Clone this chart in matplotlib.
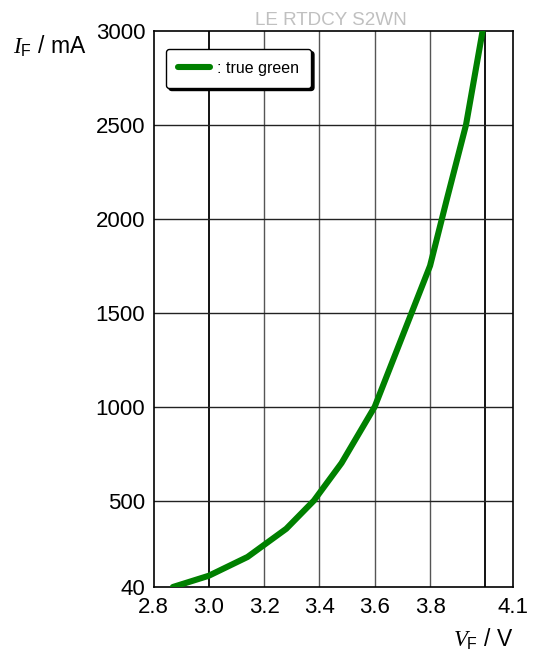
import matplotlib
matplotlib.use("Agg")
import matplotlib.pyplot as plt

plt.rcParams['font.family'] = ['Liberation Sans', 'DejaVu Sans']
plt.rcParams['mathtext.fontset'] = 'custom'
plt.rcParams['mathtext.it'] = 'Liberation Serif:italic'
plt.rcParams['mathtext.rm'] = 'Liberation Sans'

# Forward voltage (V) vs forward current (mA)
voltage = [2.87, 3.00, 3.14, 3.28, 3.38, 3.48, 3.60, 3.80, 3.86, 3.93, 3.99]
current = [40, 100, 200, 350, 500, 700, 1000, 1750, 2100, 2500, 3000]

x_ticks = [2.8, 3.0, 3.2, 3.4, 3.6, 3.8, 4.1]
x_tick_labels = ["2.8", "3.0", "3.2", "3.4", "3.6", "3.8", "4.1"]
x_grid = [3.0, 3.2, 3.4, 3.6, 3.8, 4.0]
x_major_grid = [3.0, 4.0]
y_ticks = [40, 500, 1000, 1500, 2000, 2500, 3000]
y_grid = [500, 1000, 1500, 2000, 2500]

series_label = ": true green"
title = "LE RTDCY S2WN"

fig = plt.figure(figsize=(5.39, 6.55), dpi=100)
ax = fig.add_axes([0.2848, 0.1038, 0.9518 - 0.2848, 0.9527 - 0.1038])
ax.set_xlim(2.8, 4.1)
ax.set_ylim(40, 3000)

for xv in x_grid:
    if xv in x_major_grid:
        ax.axvline(xv, color='black', lw=1.3, zorder=1)
    else:
        ax.axvline(xv, color='#555555', lw=1.0, zorder=1)
for yv in y_grid:
    ax.axhline(yv, color='#222222', lw=1.0, zorder=1)

line, = ax.plot(voltage, current, color='#008000', lw=4.4,
                solid_capstyle='round', solid_joinstyle='round', zorder=3)

ax.set_xticks(x_ticks)
ax.set_xticklabels(x_tick_labels)
ax.set_yticks(y_ticks)
ax.tick_params(length=0, labelsize=16, pad=7, colors='black')
ax.tick_params(axis='y', pad=6)
for s in ax.spines.values():
    s.set_color('black')
    s.set_linewidth(1.2)

fig.text(0.025, 0.918, r"$I_\mathrm{F}$ / mA", fontsize=16.5, ha='left', va='baseline')
fig.text(0.952, 0.013, r"$V_\mathrm{F}$ / V", fontsize=16.5, ha='right', va='baseline')
fig.text(0.614, 0.962, title, fontsize=13.6, color='#c0c0c0', ha='center', va='baseline')

leg = ax.legend([line], [series_label], loc='upper left',
                bbox_to_anchor=(0.035, 0.968), fontsize=11.5, frameon=True,
                fancybox=True, shadow={'color': 'black', 'alpha': 1.0},
                handlelength=2.0, handletextpad=0.45, borderpad=0.75,
                borderaxespad=0.0)
leg.get_frame().set_edgecolor('black')
leg.get_frame().set_linewidth(1.0)
leg.get_frame().set_alpha(1.0)

fig.savefig("out.png", dpi=100)
